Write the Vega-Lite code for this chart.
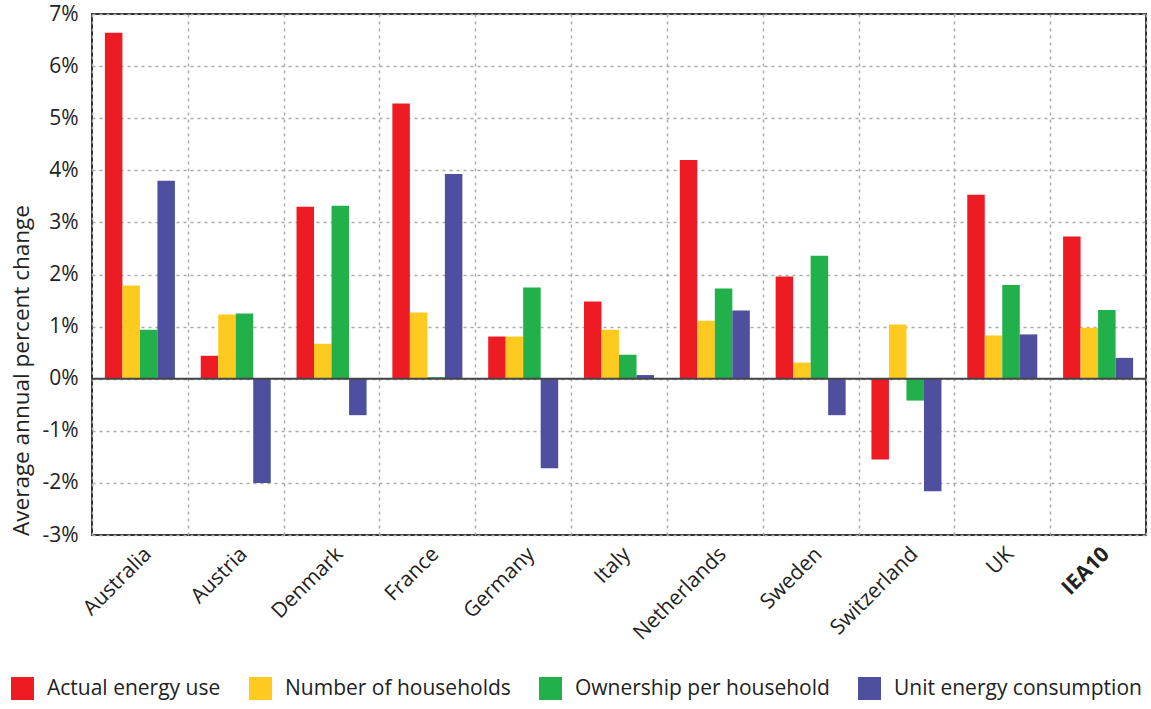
{
  "$schema": "https://vega.github.io/schema/vega-lite/v6.json",
  "width": 1054,
  "height": 521,
  "autosize": {"type": "none"},
  "padding": {"left": 92, "top": 14, "right": 5, "bottom": 174},
  "background": "white",
  "config": {
    "font": "Open Sans",
    "view": {"stroke": "#333", "strokeWidth": 2}
  },
  "data": {
    "values": [
      {"country": "Australia", "series": "Actual energy use", "value": 6.64},
      {"country": "Australia", "series": "Number of households", "value": 1.79},
      {"country": "Australia", "series": "Ownership per household", "value": 0.94},
      {"country": "Australia", "series": "Unit energy consumption", "value": 3.8},
      {"country": "Austria", "series": "Actual energy use", "value": 0.44},
      {"country": "Austria", "series": "Number of households", "value": 1.23},
      {"country": "Austria", "series": "Ownership per household", "value": 1.25},
      {"country": "Austria", "series": "Unit energy consumption", "value": -2.0},
      {"country": "Denmark", "series": "Actual energy use", "value": 3.3},
      {"country": "Denmark", "series": "Number of households", "value": 0.67},
      {"country": "Denmark", "series": "Ownership per household", "value": 3.32},
      {"country": "Denmark", "series": "Unit energy consumption", "value": -0.7},
      {"country": "France", "series": "Actual energy use", "value": 5.28},
      {"country": "France", "series": "Number of households", "value": 1.27},
      {"country": "France", "series": "Ownership per household", "value": 0.03},
      {"country": "France", "series": "Unit energy consumption", "value": 3.93},
      {"country": "Germany", "series": "Actual energy use", "value": 0.81},
      {"country": "Germany", "series": "Number of households", "value": 0.81},
      {"country": "Germany", "series": "Ownership per household", "value": 1.75},
      {"country": "Germany", "series": "Unit energy consumption", "value": -1.72},
      {"country": "Italy", "series": "Actual energy use", "value": 1.48},
      {"country": "Italy", "series": "Number of households", "value": 0.94},
      {"country": "Italy", "series": "Ownership per household", "value": 0.46},
      {"country": "Italy", "series": "Unit energy consumption", "value": 0.07},
      {"country": "Netherlands", "series": "Actual energy use", "value": 4.2},
      {"country": "Netherlands", "series": "Number of households", "value": 1.11},
      {"country": "Netherlands", "series": "Ownership per household", "value": 1.73},
      {"country": "Netherlands", "series": "Unit energy consumption", "value": 1.31},
      {"country": "Sweden", "series": "Actual energy use", "value": 1.96},
      {"country": "Sweden", "series": "Number of households", "value": 0.31},
      {"country": "Sweden", "series": "Ownership per household", "value": 2.36},
      {"country": "Sweden", "series": "Unit energy consumption", "value": -0.7},
      {"country": "Switzerland", "series": "Actual energy use", "value": -1.55},
      {"country": "Switzerland", "series": "Number of households", "value": 1.04},
      {"country": "Switzerland", "series": "Ownership per household", "value": -0.42},
      {"country": "Switzerland", "series": "Unit energy consumption", "value": -2.16},
      {"country": "UK", "series": "Actual energy use", "value": 3.53},
      {"country": "UK", "series": "Number of households", "value": 0.83},
      {"country": "UK", "series": "Ownership per household", "value": 1.8},
      {"country": "UK", "series": "Unit energy consumption", "value": 0.85},
      {"country": "IEA10", "series": "Actual energy use", "value": 2.73},
      {"country": "IEA10", "series": "Number of households", "value": 0.98},
      {"country": "IEA10", "series": "Ownership per household", "value": 1.32},
      {"country": "IEA10", "series": "Unit energy consumption", "value": 0.4}
    ]
  },
  "layer": [
    {
      "mark": {"type": "bar"},
      "encoding": {
        "x": {
          "field": "country",
          "type": "nominal",
          "sort": ["Australia", "Austria", "Denmark", "France", "Germany", "Italy", "Netherlands", "Sweden", "Switzerland", "UK", "IEA10"],
          "scale": {"paddingInner": 0, "paddingOuter": 0},
          "axis": {
            "title": null,
            "labelAngle": -45,
            "labelFontSize": 21,
            "labelColor": "#222",
            "labelPadding": 8,
            "ticks": false,
            "domain": false,
            "grid": true,
            "tickBand": "extent",
            "gridDash": [3, 4],
            "gridColor": "#aaaaaa",
            "gridWidth": 1.5,
            "labelFontWeight": {"condition": {"test": "datum.value === 'IEA10'", "value": "bold"}, "value": "normal"}
          }
        },
        "xOffset": {
          "field": "series",
          "type": "nominal",
          "sort": ["Actual energy use", "Number of households", "Ownership per household", "Unit energy consumption"],
          "scale": {"paddingInner": 0, "paddingOuter": 0.737}
        },
        "y": {
          "field": "value",
          "type": "quantitative",
          "scale": {"domain": [-3, 7], "nice": false},
          "axis": {
            "title": "Average annual percent change",
            "values": [-3, -2, -1, 0, 1, 2, 3, 4, 5, 6, 7],
            "labelExpr": "datum.value + '%'",
            "grid": true,
            "gridDash": [3, 4],
            "gridColor": "#aaaaaa",
            "gridWidth": 1.5,
            "ticks": false,
            "domain": false,
            "labelPadding": 14,
            "labelFontSize": 21,
            "labelColor": "#222",
            "titleFontSize": 22.5,
            "titleFontWeight": "normal",
            "titleColor": "#222",
            "titleX": -71,
            "titleY": 356,
            "titleAngle": -90,
            "titleAlign": "center",
            "titleBaseline": "middle"
          }
        },
        "color": {
          "field": "series",
          "type": "nominal",
          "sort": ["Actual energy use", "Number of households", "Ownership per household", "Unit energy consumption"],
          "scale": {
            "domain": ["Actual energy use", "Number of households", "Ownership per household", "Unit energy consumption"],
            "range": ["#ED1C24", "#FFCA1F", "#22B04B", "#4F4F9F"]
          },
          "legend": {
            "title": null,
            "orient": "none",
            "legendX": -81,
            "legendY": 663,
            "direction": "horizontal",
            "columns": 4,
            "symbolType": "square",
            "symbolSize": 529,
            "symbolStrokeWidth": 0,
            "symbolOpacity": 1,
            "labelFontSize": 21,
            "labelColor": "#222",
            "labelOffset": 13,
            "columnPadding": 28,
            "labelLimit": 400
          }
        }
      }
    },
    {
      "data": {"values": [{"z": 0}]},
      "mark": {"type": "rule", "color": "#444", "strokeWidth": 2},
      "encoding": {
        "y": {"datum": 0, "type": "quantitative"}
      }
    }
  ]
}
